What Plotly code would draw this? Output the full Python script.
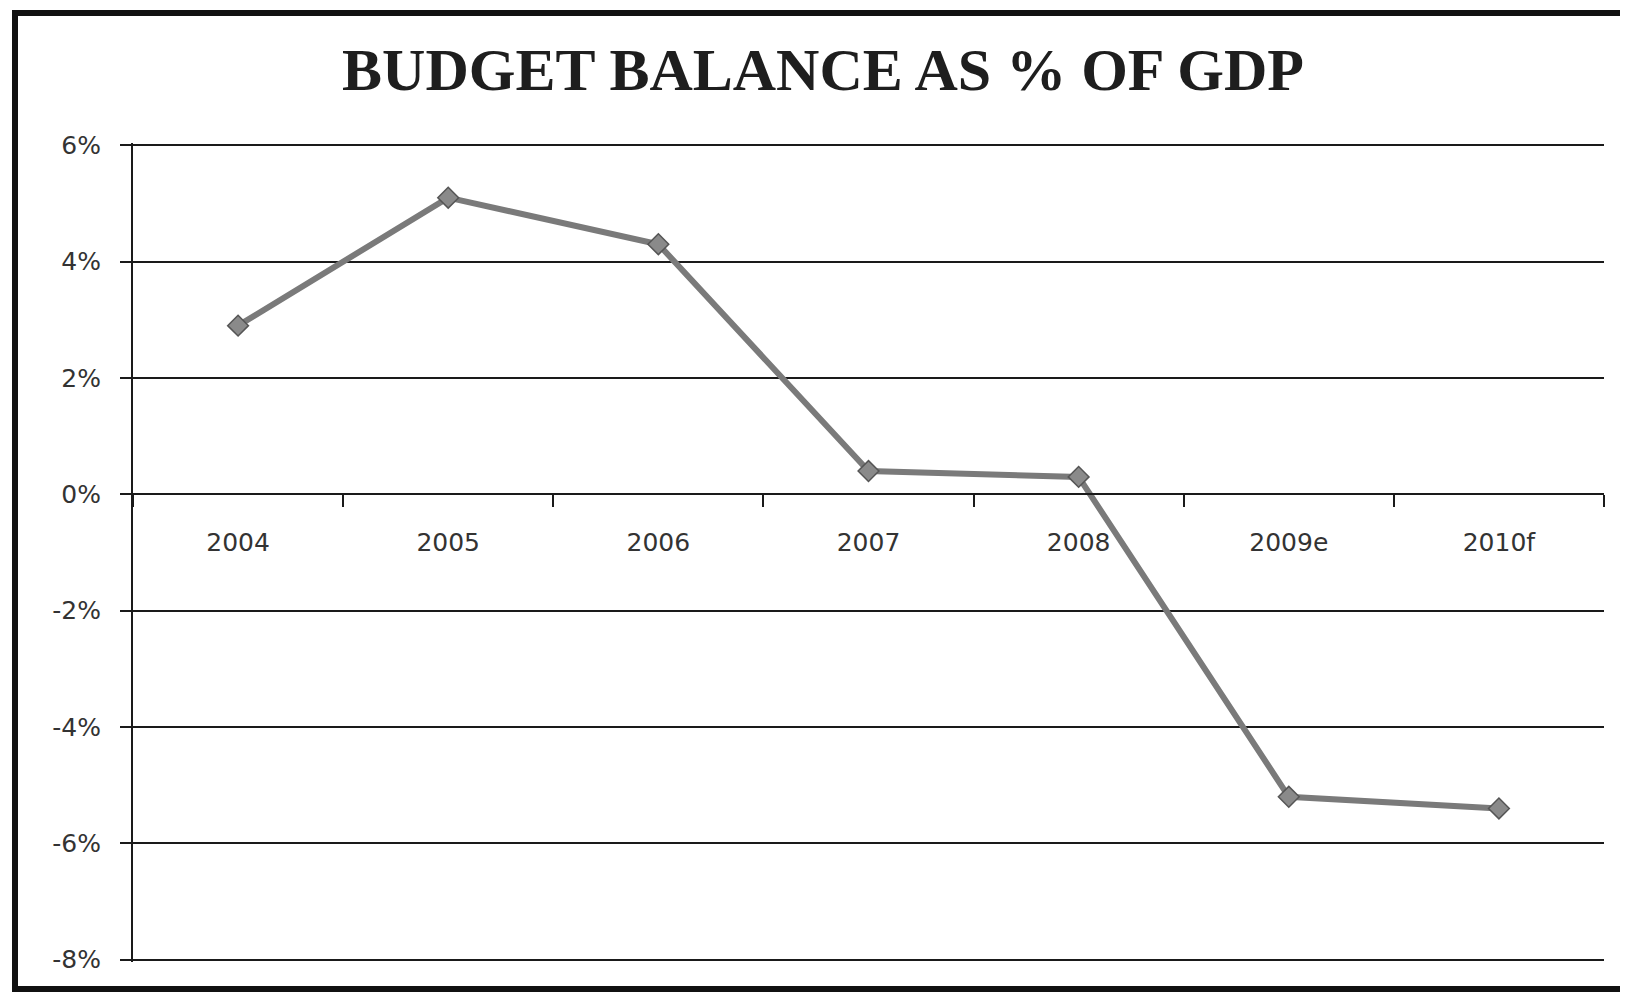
import plotly.graph_objects as go

# ---- data ----
years = ["2004", "2005", "2006", "2007", "2008", "2009e", "2010f"]
balance_pct = [2.9, 5.1, 4.3, 0.4, 0.3, -5.2, -5.4]
y_tick_values = [-8, -6, -4, -2, 0, 2, 4, 6]
y_tick_labels = ["-8%", "-6%", "-4%", "-2%", "0%", "2%", "4%", "6%"]
title_text = "BUDGET BALANCE AS % OF GDP"

W, H = 1628, 992
OFF = 8  # page body margin offset of the figure
pad = 0.04  # small range padding so the edge gridlines are drawn
ymin, ymax = y_tick_values[0] - pad, y_tick_values[-1] + pad
y_top_px, y_bot_px = 145 - OFF, 960 - OFF  # rows of the 6% and -8% gridlines
ppu = (y_bot_px - y_top_px) / (y_tick_values[-1] - y_tick_values[0])
T = round(y_top_px - pad * ppu)
B = round(H - (y_bot_px + pad * ppu))
L = 133 - OFF
R = W - (1604 - OFF)

fig = go.Figure()
fig.add_trace(go.Scatter(
    x=years, y=balance_pct, mode="lines+markers",
    line=dict(color="#7a7a7a", width=6),
    marker=dict(symbol="diamond", size=16, color="#8a8a8a",
                line=dict(color="#555555", width=1.5)),
    cliponaxis=False, showlegend=False,
))

zero_frac = (0 - ymin) / (ymax - ymin)

fig.update_layout(
    width=W, height=H,
    margin=dict(l=L, r=R, t=T, b=B),
    paper_bgcolor="white", plot_bgcolor="white",
    title=dict(text="<b>" + title_text + "</b>",
               font=dict(family="Liberation Serif", size=60, color="#1e1e1e"),
               x=(823 - OFF) / W, xanchor="center", xref="container",
               y=1 - (69 - OFF) / H, yanchor="middle", yref="container"),
    xaxis=dict(type="category", categoryorder="array", categoryarray=years,
               anchor="free", position=zero_frac,
               showline=True, linecolor="#1a1a1a", linewidth=2,
               showgrid=False, zeroline=False,
               ticks="outside", tickson="boundaries", ticklen=12,
               tickcolor="#1a1a1a", tickwidth=2,
               ticklabelstandoff=26,
               tickfont=dict(family="DejaVu Sans", size=25, color="#333333"),
               range=[-0.5, len(years) - 0.5]),
    yaxis=dict(range=[ymin, ymax], tickvals=y_tick_values, ticktext=y_tick_labels,
               showgrid=True, gridcolor="#1a1a1a", gridwidth=2,
               zeroline=False,
               showline=True, linecolor="#1a1a1a", linewidth=2,
               ticks="outside", ticklen=11, tickcolor="#1a1a1a", tickwidth=2,
               ticklabelstandoff=14,
               tickfont=dict(family="DejaVu Sans", size=25, color="#333333")),
)

# outer frame of the scanned chart (left, top, bottom edges; right is cut off)
pw = W - L - R
ph = H - T - B
def px_x(x):
    return (x - OFF - L) / pw
def px_y(y):
    return (H - B - (y - OFF)) / ph
fig.add_shape(type="rect", xref="paper", yref="paper",
              x0=px_x(15), x1=px_x(1680), y0=px_y(989), y1=px_y(13),
              line=dict(color="#111111", width=6), fillcolor="rgba(0,0,0,0)",
              layer="below")

fig.write_html("out.html")
